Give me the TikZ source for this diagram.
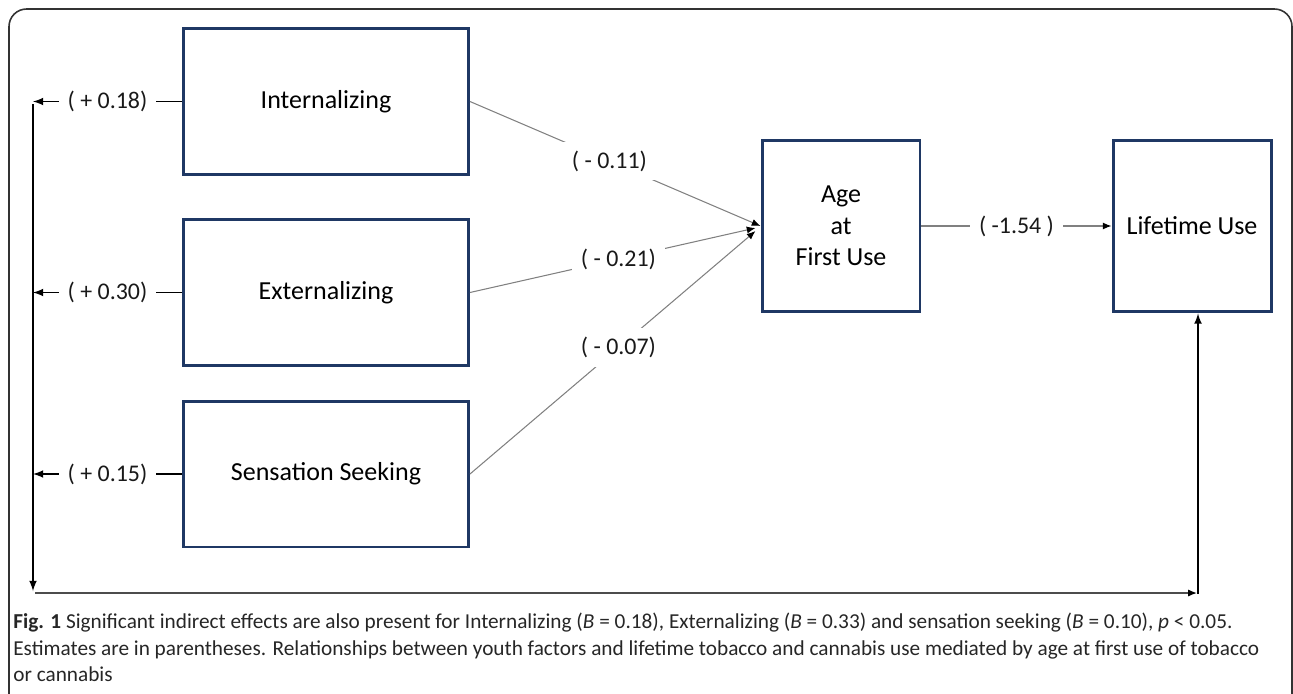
\documentclass[tikz,border=0pt]{standalone}
\usepackage{fontspec}
\setmainfont{Carlito}
\usetikzlibrary{arrows.meta}
\definecolor{navy}{RGB}{31,56,100}

\begin{document}
\begin{tikzpicture}[x=0.02cm,y=-0.02cm,
	factor/.style={draw=navy,line width=1.7pt,minimum width=5.7cm,minimum height=2.92cm,font=\fontsize{14.8}{18}\selectfont},
	outcome/.style={draw=navy,line width=1.7pt,minimum width=3.16cm,minimum height=3.44cm,align=center,font=\fontsize{14.8}{18}\selectfont},
	est/.style={fill=white,text=black!90,inner sep=5pt,font=\fontsize{13.6}{15}\selectfont},
	effect/.style={gray,line width=0.6pt,-{Latex[color=black,length=5pt,width=4pt]}}]
\useasboundingbox (0,0) rectangle (1293,693);
\clip (0,0) rectangle (1293,693);
\draw[line width=0.9pt,black!80,rounded corners=10pt] (9,9) rectangle (1292,760);

% mediator and outcome
\node[outcome] (age) at (841,226) {Age\\at\\First Use};
\node[outcome] (life) at (1192,226) {Lifetime Use};
\draw[effect] (age) -- node[est] {( -1.54 )} (life);

% direct path back round to lifetime use
\coordinate (vtop) at (33,104);
\coordinate (vbot) at (33,591);
\coordinate (hbeg) at (35,593);
\coordinate (hend) at (1197,593);
\coordinate (corner) at (1198,594);
\draw[line width=1pt,-latex] (vtop) -- (vbot);
\draw[line width=0.8pt,black!70,-{Latex[color=black,length=5pt,width=4pt]}] (hbeg) -- (hend);
\draw[line width=1pt,-latex] (corner) -- (corner |- life.south);

% youth factors
\foreach \name/\txt/\y/\est in {int/Internalizing/101.5/+ 0.18, ext/Externalizing/292.5/+ 0.30, sen/Sensation Seeking/474/+ 0.15}
	{
	\node[factor] (\name) at (326,\y) {\txt};
	\draw[line width=1pt,-latex] (\name.west)
		-- node[est] {( \est)} (\name.west -| vtop);
	}

\draw[effect] (int.east) -- node[est,pos=0.48] {( - 0.11)} (age.west);
\draw[effect] (ext.east) -- node[est,pos=0.52] {( - 0.21)} ([xshift=-0.1cm,yshift=-0.04cm]age.west);
\draw[effect] (sen.east) -- node[est,pos=0.52] {( - 0.07)} ([xshift=-0.1cm,yshift=-0.1cm]age.west);

\node[anchor=north west,align=left,inner sep=0pt,text=black!85,font=\fontsize{12.1}{15}\selectfont] (cap) at (13,613)
	{\textbf{Fig. 1} Significant indirect effects are also present for Internalizing (\textit{B} = 0.18), Externalizing (\textit{B} = 0.33) and sensation seeking (\textit{B} = 0.10), \textit{p} < 0.05.\\
	Estimates are in parentheses. Relationships between youth factors and lifetime tobacco and cannabis use mediated by age at first use of tobacco\\
	or cannabis};
\end{tikzpicture}
\end{document}
